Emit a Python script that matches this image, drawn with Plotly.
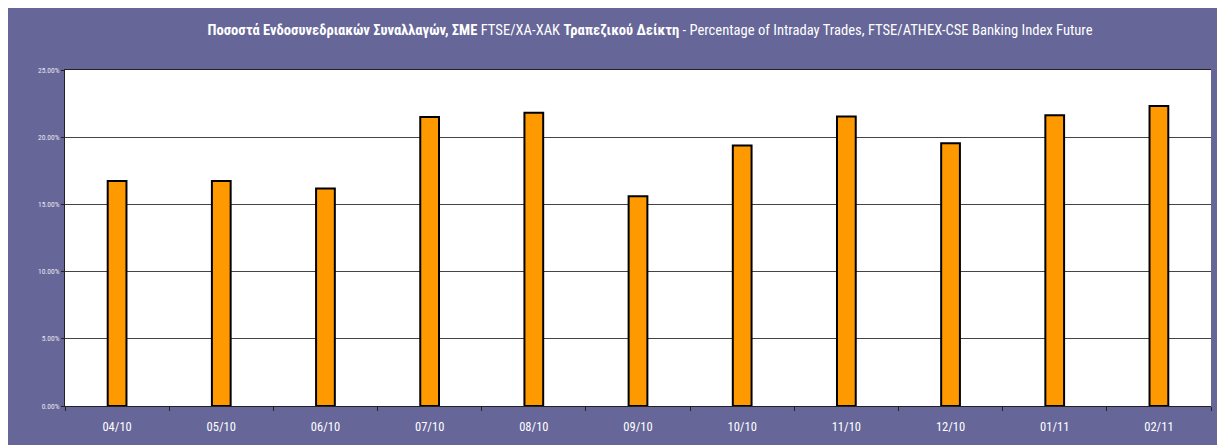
import plotly.graph_objects as go

months = ["04/10", "05/10", "06/10", "07/10", "08/10", "09/10", "10/10", "11/10", "12/10", "01/11", "02/11"]
intraday_pct = [16.75, 16.75, 16.18, 21.51, 21.81, 15.61, 19.38, 21.54, 19.55, 21.64, 22.33]
y_ticks = [0, 5, 10, 15, 20, 25]

PURPLE = "#666699"
FONT = "Roboto Condensed, Liberation Sans Narrow, Arial Narrow, sans-serif"

W, H = 1225, 445
L, R, T, B = 57, 22, 62, 47

fig = go.Figure()
fig.add_trace(go.Bar(
    x=months, y=intraday_pct,
    marker=dict(color="#FF9900", line=dict(color="#000000", width=2)),
    width=0.18,
    hoverinfo="x+y",
))

title = ("<b>Ποσοστά Ενδοσυνεδριακών Συναλλαγών, ΣΜΕ</b> FTSE/ΧΑ-ΧΑΚ "
         "<b>Τραπεζικού Δείκτη</b> - Percentage of Intraday Trades, FTSE/ATHEX-CSE Banking Index Future")

fig.update_layout(
    width=W, height=H,
    margin=dict(l=L, r=R, t=T, b=B, pad=0),
    paper_bgcolor=PURPLE,
    plot_bgcolor="white",
    showlegend=False,
    title=dict(text=title, x=642 / W, xanchor="center", xref="container",
               y=1 - 22 / H, yanchor="middle", yref="container",
               font=dict(family=FONT, size=14.6, color="white")),
    xaxis=dict(
        type="category",
        showgrid=False,
        showline=True, linecolor="#222", linewidth=1, mirror=True,
        ticks="outside", tickson="boundaries", ticklen=4, tickcolor="#222",
        ticklabelstandoff=9,
        tickfont=dict(family=FONT, size=12.5, color="white"),
    ),
    yaxis=dict(
        range=[0, 25],
        tickvals=y_ticks,
        ticktext=[f"{v:.2f}%" for v in y_ticks],
        showgrid=True, gridcolor="#444", gridwidth=1,
        showline=True, linecolor="#222", linewidth=1,
        ticks="outside", ticklen=3, tickcolor="#222",
        tickfont=dict(family=FONT, size=7.5, color="#e8e8f0"),
        zeroline=False,
    ),
)

fig.write_html("out.html")
